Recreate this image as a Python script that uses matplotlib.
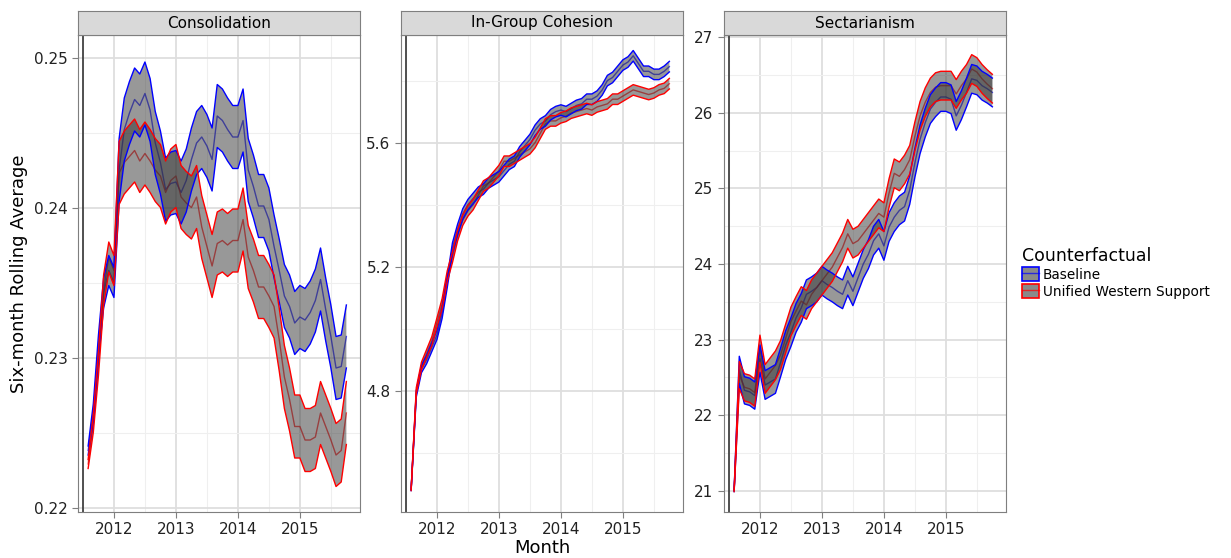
import numpy as np
import matplotlib.pyplot as plt
from matplotlib.patches import Patch
from matplotlib.lines import Line2D

# monthly, Aug 2011 .. Oct 2015
months = 2011 + 7 / 12 + np.arange(51) / 12
panels = ['Consolidation', 'In-Group Cohesion', 'Sectarianism']
series = ['Baseline', 'Unified Western Support']

cons_base = [0.2238, 0.2263, 0.2307, 0.2343, 0.2358, 0.2350, 0.2425, 0.2452, 0.2463, 0.2472,
             0.2468, 0.2476, 0.2465, 0.2443, 0.2430, 0.2412, 0.2416, 0.2417, 0.2410, 0.2418,
             0.2432, 0.2443, 0.2447, 0.2441, 0.2432, 0.2461, 0.2458, 0.2452, 0.2447, 0.2447,
             0.2458, 0.2425, 0.2414, 0.2401, 0.2401, 0.2392, 0.2374, 0.2358, 0.2341, 0.2334,
             0.2323, 0.2327, 0.2325, 0.2330, 0.2338, 0.2352, 0.2332, 0.2314, 0.2293, 0.2294,
             0.2314]
cons_unif = [0.2229, 0.2256, 0.2296, 0.2345, 0.2367, 0.2358, 0.2423, 0.2430, 0.2434, 0.2438,
             0.2431, 0.2436, 0.2431, 0.2425, 0.2421, 0.2410, 0.2418, 0.2421, 0.2407, 0.2403,
             0.2400, 0.2407, 0.2387, 0.2374, 0.2361, 0.2376, 0.2378, 0.2375, 0.2378, 0.2378,
             0.2392, 0.2367, 0.2358, 0.2347, 0.2347, 0.2341, 0.2334, 0.2312, 0.2287, 0.2272,
             0.2254, 0.2254, 0.2245, 0.2245, 0.2247, 0.2263, 0.2254, 0.2245, 0.2235, 0.2238,
             0.2263]
coh_base = [4.48, 4.79, 4.87, 4.90, 4.94, 4.98, 5.05, 5.15, 5.26, 5.32,
            5.37, 5.40, 5.42, 5.44, 5.45, 5.47, 5.48, 5.49, 5.51, 5.53,
            5.54, 5.57, 5.59, 5.61, 5.64, 5.66, 5.67, 5.69, 5.70, 5.705,
            5.70, 5.71, 5.72, 5.725, 5.74, 5.74, 5.75, 5.77, 5.80, 5.81,
            5.83, 5.85, 5.86, 5.88, 5.855, 5.83, 5.83, 5.82, 5.82, 5.83,
            5.845]
coh_unif = [4.48, 4.80, 4.88, 4.92, 4.96, 5.02, 5.08, 5.17, 5.23, 5.30,
            5.35, 5.38, 5.40, 5.43, 5.46, 5.47, 5.49, 5.51, 5.54, 5.54,
            5.55, 5.56, 5.57, 5.58, 5.60, 5.63, 5.66, 5.67, 5.67, 5.68,
            5.685, 5.695, 5.70, 5.705, 5.71, 5.705, 5.715, 5.72, 5.725, 5.74,
            5.74, 5.75, 5.76, 5.77, 5.765, 5.76, 5.755, 5.76, 5.77, 5.775,
            5.79]
sect_base = [21.0, 22.6, 22.33, 22.31, 22.26, 22.75, 22.4, 22.44, 22.48, 22.7,
             22.93, 23.1, 23.29, 23.42, 23.6, 23.64, 23.69, 23.78, 23.73, 23.69,
             23.64, 23.6, 23.78, 23.64, 23.82, 24.0, 24.13, 24.31, 24.4, 24.24,
             24.49, 24.62, 24.71, 24.76, 24.98, 25.34, 25.65, 25.87, 26.05, 26.14,
             26.21, 26.21, 26.18, 25.96, 26.1, 26.27, 26.45, 26.43, 26.36, 26.32,
             26.27]
sect_unif = [21.0, 22.53, 22.37, 22.35, 22.3, 22.88, 22.48, 22.57, 22.66, 22.8,
             23.02, 23.24, 23.38, 23.51, 23.46, 23.6, 23.69, 23.78, 23.87, 23.96,
             24.09, 24.22, 24.4, 24.27, 24.31, 24.4, 24.49, 24.58, 24.67, 24.62,
             24.94, 25.2, 25.16, 25.25, 25.38, 25.69, 25.96, 26.14, 26.27, 26.34,
             26.36, 26.36, 26.36, 26.25, 26.36, 26.45, 26.58, 26.54, 26.45, 26.38,
             26.32]

# ribbon half-widths (early months narrow, later roughly constant)
cons_hw = [0.0003, 0.0006, 0.0008, 0.0010, 0.0010, 0.0010] + [0.0021] * 45
coh_hw = [0.002, 0.01, 0.012, 0.013, 0.014, 0.015] + [0.017] * 45
sect_hw = [0.01, 0.18, 0.18, 0.18, 0.18, 0.18] + [0.19] * 45

data = {
    'Consolidation': (cons_base, cons_unif, cons_hw),
    'In-Group Cohesion': (coh_base, coh_unif, coh_hw),
    'Sectarianism': (sect_base, sect_unif, sect_hw),
}
ylims = {'Consolidation': (0.2197, 0.2515), 'In-Group Cohesion': (4.409, 5.947),
         'Sectarianism': (20.72, 27.03)}
yticks = {'Consolidation': ([0.22, 0.23, 0.24, 0.25], ['0.22', '0.23', '0.24', '0.25']),
          'In-Group Cohesion': ([4.8, 5.2, 5.6], ['4.8', '5.2', '5.6']),
          'Sectarianism': (list(range(21, 28)), [str(v) for v in range(21, 28)])}
colors = {'Baseline': '#0000ff', 'Unified Western Support': '#ff0000'}

W, H = 1231, 558
fig = plt.figure(figsize=(W / 100, H / 100), dpi=100)
lefts = [78, 401, 724]
width = 282
top, bottom, strip_h = 35, 512, 24

for name, left in zip(panels, lefts):
    ax = fig.add_axes([left / W, 1 - bottom / H, width / W, (bottom - top) / H])
    base, unif, hw = data[name]
    hw = np.array(hw)
    for lab, vals in zip(series, (base, unif)):
        v = np.array(vals)
        c = colors[lab]
        ax.plot(months, v, color=c, lw=1.0, alpha=0.7, zorder=3)
        ax.fill_between(months, v - hw, v + hw, facecolor='#333333', alpha=0.5,
                        edgecolor='none', zorder=4)
        ax.plot(months, v - hw, color=c, lw=1.0, zorder=5)
        ax.plot(months, v + hw, color=c, lw=1.0, zorder=5)
    ax.axvline(2011.5, color='#333333', lw=1.2, zorder=2)
    ax.set_xticks([2012, 2013, 2014, 2015])
    ax.set_xticks([2011.5, 2012.5, 2013.5, 2014.5, 2015.5], minor=True)
    t, tl = yticks[name]
    ax.set_yticks(t)
    ax.set_yticklabels(tl)
    step = t[1] - t[0]
    ax.set_yticks([x + step / 2 for x in [t[0] - step] + t], minor=True)
    ax.set_xlim(2011.42, 2015.97)
    ax.set_ylim(*ylims[name])
    ax.grid(which='major', color='#dedede', lw=1.3, zorder=0)
    ax.grid(which='minor', color='#efefef', lw=0.8, zorder=0)
    ax.set_axisbelow(True)
    ax.tick_params(labelsize=11, color='#7f7f7f', length=4, labelcolor='#222222')
    ax.tick_params(which='minor', length=0)
    for s in ax.spines.values():
        s.set_color('#7f7f7f')
    sax = fig.add_axes([left / W, 1 - top / H, width / W, strip_h / H])
    sax.set_facecolor('#d9d9d9')
    sax.set_xticks([])
    sax.set_yticks([])
    for s in sax.spines.values():
        s.set_color('#7f7f7f')
    sax.text(0.5, 0.5, name, ha='center', va='center', fontsize=11, transform=sax.transAxes)
    if name == 'Consolidation':
        ax.set_ylabel('Six-month Rolling Average', fontsize=13)

fig.text((401 + 141) / W, 1 - 548 / H, 'Month', ha='center', va='center', fontsize=13)

handles = [(Patch(facecolor='#8a8a8a', edgecolor=colors[s], lw=1.2),
            Line2D([], [], color=colors[s], lw=1, alpha=0.7)) for s in series]
leg = fig.legend(handles, series, loc='center left', bbox_to_anchor=(1014 / W, 1 - 273 / H),
                 title='Counterfactual', frameon=False, fontsize=9.8, title_fontsize=12.5,
                 handlelength=1.2, handleheight=1.2, handletextpad=0.3, labelspacing=0.15,
                 borderaxespad=0.2)
leg._legend_box.align = 'left'

fig.savefig('out.png', dpi=100)
